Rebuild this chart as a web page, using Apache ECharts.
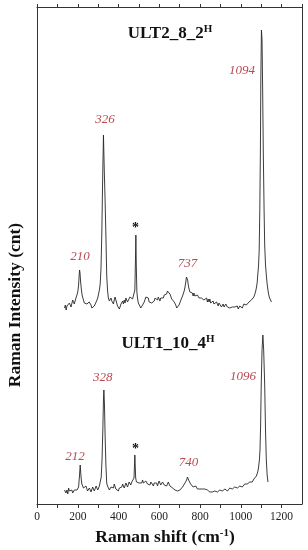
<!DOCTYPE html>
<html><head><meta charset="utf-8">
<script src="https://cdn.jsdelivr.net/npm/echarts@6/dist/echarts.min.js"></script>
<style>html,body{margin:0;padding:0;background:#fff}#c{width:308px;height:550px}</style>
</head><body><div id="c"></div>
<script>
// Raman shift (cm-1) / intensity pairs, upper spectrum ULT2_8_2H
var shiftTop = [135,139,143,147,151,155,159,163,167,171,175,179,183,187,191,196,200,204,207,209,211,214,218,222,228,232,236,240,245,248,252,256,261,265,269,273,277,281,285,290,294,298,301,306,310,314,318,322,326,330,334,338,342,346,350,355,359,363,367,371,375,379,383,387,391,395,399,404,408,412,416,420,424,428,432,436,440,444,448,452,456,460,465,469,473,477,480,483,485,487,490,493,497,501,505,509,514,518,522,526,530,534,538,542,546,550,554,559,563,567,571,575,579,583,587,591,595,599,603,607,612,616,620,624,628,632,636,640,644,648,652,656,661,665,669,673,677,681,685,689,693,697,701,706,710,714,717,722,726,730,733,736,739,742,746,750,754,758,762,766,770,774,779,783,787,791,795,799,803,807,811,815,819,823,828,832,836,840,844,848,852,856,860,864,868,872,877,881,885,889,893,897,901,905,909,913,918,922,926,930,934,938,942,946,950,954,958,962,966,970,975,978,983,987,991,995,999,1003,1007,1011,1015,1019,1023,1027,1031,1035,1040,1044,1048,1052,1056,1060,1064,1068,1072,1076,1080,1083,1087,1090,1093,1096,1098,1101,1104,1107,1110,1114,1117,1121,1125,1129,1133,1137,1141,1146,1150];
var intensityTop = [12,15,10,14,16,12,17,18,13,15,20,20,16,18,22,25,28,35,45,50,47,38,30,24,20,17,18,19,16,14,16,18,17,15,12,11,13,14,16,18,20,22,25,30,36,52,87,140,185,150,120,85,45,30,22,19,20,22,19,18,16,20,23,20,17,14,15,11,13,16,17,19,16,20,17,22,20,18,19,20,23,24,22,21,19,23,30,60,85,55,28,22,17,16,15,12,13,15,14,18,20,23,23,21,22,18,19,20,17,18,16,19,22,20,21,20,23,21,19,22,21,23,22,25,24,25,26,29,30,29,26,25,21,22,19,18,16,15,12,13,12,15,17,20,22,24,25,29,33,38,43,45,40,35,31,28,29,27,27,24,27,24,25,22,25,23,22,24,21,22,23,21,20,22,20,22,18,21,18,21,17,19,17,19,16,18,15,18,16,14,17,16,15,13,15,16,13,14,16,15,13,14,15,12,14,12,13,14,11,13,11,12,14,11,12,14,13,15,12,14,16,14,16,15,17,16,18,18,19,20,21,22,23,25,28,32,37,45,55,70,110,170,240,290,280,230,170,110,75,55,45,36,30,25,22,20,18,16,15];
// lower spectrum ULT1_10_4H
var shiftBottom = [135,142,147,151,155,159,163,167,171,175,179,183,187,192,196,200,204,208,212,216,220,224,228,232,236,240,245,248,252,257,261,265,269,273,277,281,285,290,294,298,301,306,310,315,319,323,326,328,331,334,338,342,346,350,355,359,363,367,371,375,379,383,387,391,395,399,404,408,412,416,420,424,428,432,436,440,444,448,452,456,460,465,469,473,476,480,484,488,492,497,501,505,509,514,518,522,526,530,534,538,542,546,550,554,559,563,567,571,575,579,583,587,591,595,599,603,607,612,616,620,624,628,632,636,640,644,648,652,656,661,665,669,673,677,681,685,689,693,697,701,706,710,714,717,722,726,730,734,738,742,746,750,754,758,762,766,770,774,779,783,787,791,795,799,803,807,811,815,819,823,828,832,836,840,844,848,852,856,860,864,868,872,877,881,885,889,893,897,901,905,909,913,918,922,926,930,934,938,942,946,950,954,958,962,966,970,975,978,983,987,991,995,999,1003,1007,1011,1015,1019,1023,1027,1031,1035,1040,1044,1048,1052,1056,1060,1064,1068,1072,1076,1080,1083,1087,1091,1094,1097,1100,1104,1108,1112,1117,1121,1125,1129,1133];
var intensityBottom = [10,7,10,6,12,9,7,11,10,7,6,10,11,12,10,12,13,23,35,23,16,14,12,10,13,14,12,9,11,12,13,8,10,13,14,9,11,14,12,10,12,14,15,23,40,70,100,110,95,65,35,17,14,12,10,9,13,14,11,12,16,14,11,13,10,9,12,14,12,13,16,15,12,14,17,15,13,15,18,16,15,18,19,17,22,45,22,18,18,16,17,15,18,17,20,17,19,16,19,18,16,18,18,15,18,17,16,14,17,16,18,17,14,16,19,17,15,17,18,16,15,17,17,14,16,18,16,14,13,12,12,11,11,10,9,8,9,10,11,10,12,11,13,13,15,17,19,20,23,23,19,18,16,15,15,13,14,12,14,13,11,13,12,11,12,11,11,10,10,11,9,10,10,9,10,8,9,9,8,8,7,9,7,9,8,9,8,10,8,10,9,10,9,11,10,11,9,11,10,12,10,12,11,12,11,13,12,13,12,14,12,14,13,15,13,15,14,16,15,16,16,17,17,18,18,19,18,20,21,22,22,24,25,28,33,40,50,75,115,150,165,150,115,70,40,25,18,14,10,7];
var tickValues = [0,200,400,600,800,1000,1200];
// peak annotations [shift, intensity, text]
var peaksTop = [[1006,249,'1094'],[333,200,'326'],[211,63,'210'],[738,56,'737']];
var starTop = [[483,92,'*']];
var peaksBottom = [[1011,123,'1096'],[323,122,'328'],[187,43,'212'],[743,37,'740']];
var starBottom = [[483,51,'*']];

function zip(a,b){return a.map(function(v,i){return [v,b[i]];});}
var serif = 'Liberation Serif';
var red = '#b84a52';
function marks(list,color){
  return {symbol:'circle',symbolSize:0,silent:true,
    label:{show:true,position:'inside',formatter:function(p){return p.name;},
      fontFamily:serif,fontStyle:color===red?'italic':'normal',fontWeight:color===red?'normal':'bold',fontSize:color===red?13:14,color:color},
    data:list.map(function(d){return {name:d[2],coord:[d[0],d[1]]};})};
}
var chart = echarts.init(document.getElementById('c'),null,{renderer:'canvas'});
var axisCommon = {type:'value',min:0,max:1300,interval:100,
  axisLine:{show:true,onZero:false,lineStyle:{color:'#333',width:1}},
  splitLine:{show:false}};
var supRich = function(size){
  return {a:{font:'bold '+size+'px "Liberation Serif"',fill:'#111',lineHeight:size+2,verticalAlign:'bottom'},
          s:{font:'bold '+Math.round(size*0.62)+'px "Liberation Serif"',fill:'#111',lineHeight:Math.round(size*0.62),verticalAlign:'top'}};
};
chart.setOption({
  animation:false,
  grid:{left:37,right:6,top:7,bottom:46},
  xAxis:[
    Object.assign({},axisCommon,{position:'bottom',
      axisTick:{show:true,length:4,lineStyle:{color:'#333'}},
      axisLabel:{show:true,margin:7,fontFamily:serif,fontSize:11.5,color:'#222',showMaxLabel:false,
        formatter:function(v){return tickValues.indexOf(v)>=0?String(v):'';}}}),
    Object.assign({},axisCommon,{position:'top',
      axisTick:{show:true,inside:false,length:3,lineStyle:{color:'#333'}},
      axisLabel:{show:false}})
  ],
  yAxis:[
    {type:'value',min:-4,max:493,position:'left',axisLine:{show:true,onZero:false,lineStyle:{color:'#333'}},axisTick:{show:false},axisLabel:{show:false},splitLine:{show:false}},
    {type:'value',min:-184,max:313,position:'right',axisLine:{show:true,onZero:false,lineStyle:{color:'#333'}},axisTick:{show:false},axisLabel:{show:false},splitLine:{show:false}}
  ],
  graphic:[
    {type:'text',x:15,y:305,rotation:Math.PI/2,style:{text:'Raman Intensity (cnt)',font:'bold 17.5px "Liberation Serif"',fill:'#111',align:'center',verticalAlign:'middle'}},
    {type:'text',x:165,y:537,style:{text:'{a|Raman shift (cm}{s|-1}{a|)}',align:'center',verticalAlign:'middle',rich:supRich(17.5)}},
    {type:'text',x:170,y:33,style:{text:'{a|ULT2_8_2}{s|H}',align:'center',verticalAlign:'middle',rich:supRich(17)}},
    {type:'text',x:168,y:343,style:{text:'{a|ULT1_10_4}{s|H}',align:'center',verticalAlign:'middle',rich:supRich(17)}}
  ],
  series:[
    {type:'line',name:'ULT2_8_2H',xAxisIndex:0,yAxisIndex:1,data:zip(shiftTop,intensityTop),showSymbol:false,
      lineStyle:{color:'#262626',width:0.9},z:3,
      markPoint:marks(peaksTop,red)},
    {type:'line',name:'ULT1_10_4H',xAxisIndex:0,yAxisIndex:0,data:zip(shiftBottom,intensityBottom),showSymbol:false,
      lineStyle:{color:'#262626',width:0.9},z:3,
      markPoint:marks(peaksBottom,red)},
    {type:'line',name:'starTop',xAxisIndex:0,yAxisIndex:1,data:[],markPoint:marks(starTop,'#111')},
    {type:'line',name:'starBottom',xAxisIndex:0,yAxisIndex:0,data:[],markPoint:marks(starBottom,'#111')}
  ]
});
</script></body></html>
